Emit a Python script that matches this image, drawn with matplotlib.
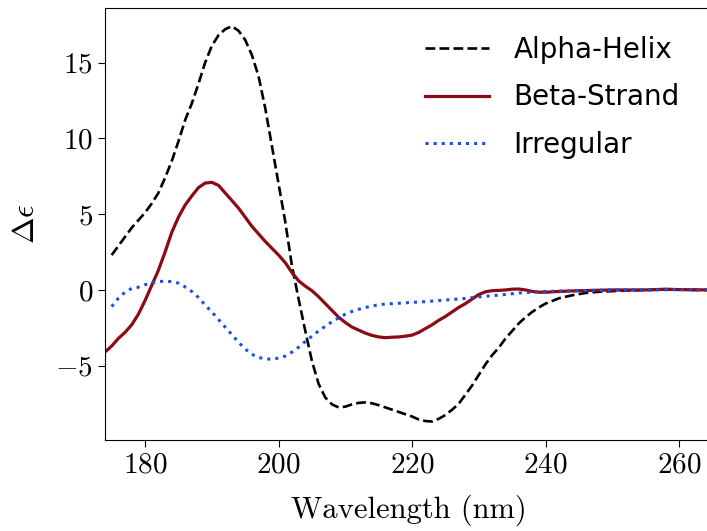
import matplotlib
matplotlib.use('Agg')
import matplotlib.pyplot as plt

plt.rcParams['font.family'] = 'serif'
plt.rcParams['font.serif'] = ['cmr10']
plt.rcParams['mathtext.fontset'] = 'cm'
plt.rcParams['axes.formatter.use_mathtext'] = True

# CD reference spectra (wavelength in nm, delta epsilon)
alpha_x = [175, 177, 178, 180, 181, 182, 183, 184, 185, 186, 187, 188, 189, 190, 191, 192, 193,
           194, 195, 196, 197, 198, 199, 200, 201, 202, 203, 204, 205, 206, 207, 208, 209, 210,
           211, 212, 213, 214, 215, 216, 217, 218, 219, 220, 221, 222, 223, 224, 225, 226, 227,
           228, 229, 230, 231, 232, 233, 234, 235, 236, 237, 238, 239, 240, 242, 244, 246, 248,
           250, 252, 255, 258, 260, 262, 265]
alpha_y = [2.3, 3.5, 4.1, 5.1, 5.7, 6.4, 7.4, 8.5, 9.8, 11.2, 12.3, 13.6, 15.0, 16.1, 16.8, 17.2, 17.4,
           17.1, 16.5, 15.5, 14.1, 12.0, 9.5, 7.0, 4.5, 1.6, -0.6, -2.7, -4.7, -6.2, -7.1, -7.55, -7.75, -7.7,
           -7.55, -7.45, -7.42, -7.48, -7.6, -7.75, -7.9, -8.05, -8.2, -8.35, -8.55, -8.65, -8.68, -8.5, -8.25, -7.9, -7.5,
           -6.9, -6.3, -5.6, -4.9, -4.3, -3.8, -3.2, -2.7, -2.2, -1.8, -1.45, -1.15, -0.9, -0.55, -0.35, -0.2, -0.12,
           -0.08, -0.04, 0.0, 0.02, 0.03, 0.0, 0.0]

beta_x = [174, 175, 176, 177, 178, 179, 180, 181, 182, 183, 184, 185, 186, 187, 188, 189, 190,
          191, 192, 193, 194, 195, 196, 197, 198, 199, 200, 201, 202, 203, 204, 205, 206, 207,
          208, 209, 210, 211, 212, 213, 214, 215, 216, 217, 218, 219, 220, 221, 222, 223, 224,
          225, 226, 227, 228, 229, 230, 231, 232, 233, 234, 235, 236, 237, 238, 239, 240, 242,
          245, 250, 255, 258, 260, 265]
beta_y = [-4.1, -3.7, -3.2, -2.8, -2.3, -1.6, -0.7, 0.3, 1.3, 2.5, 3.8, 4.8, 5.6, 6.2, 6.75, 7.05, 7.1,
          6.9, 6.4, 5.9, 5.4, 4.8, 4.2, 3.7, 3.2, 2.75, 2.3, 1.8, 1.15, 0.6, 0.25, -0.05, -0.45, -0.9,
          -1.35, -1.8, -2.15, -2.45, -2.65, -2.85, -3.0, -3.1, -3.15, -3.12, -3.1, -3.05, -2.98, -2.8, -2.55, -2.3, -2.0,
          -1.75, -1.45, -1.15, -0.9, -0.6, -0.3, -0.12, -0.05, -0.03, 0.0, 0.05, 0.06, 0.0, -0.1, -0.15, -0.15, -0.1,
          -0.05, 0.0, 0.0, 0.05, 0.02, 0.0]

irr_x = [175, 176, 177, 178, 179, 180, 181, 182, 183, 184, 185, 186, 187, 188, 189, 190, 191,
         192, 193, 194, 195, 196, 197, 198, 199, 200, 201, 202, 203, 204, 205, 206, 207, 208,
         209, 210, 211, 212, 213, 214, 215, 216, 218, 220, 222, 224, 226, 228, 230, 232, 234,
         236, 238, 240, 245, 250, 255, 260, 265]
irr_y = [-1.1, -0.55, -0.15, 0.1, 0.18, 0.35, 0.45, 0.55, 0.58, 0.55, 0.45, 0.2, -0.1, -0.5, -1.0, -1.45, -1.95,
         -2.45, -2.95, -3.45, -3.9, -4.25, -4.45, -4.55, -4.57, -4.5, -4.36, -4.1, -3.78, -3.4, -3.05, -2.7, -2.4, -2.1,
         -1.85, -1.6, -1.42, -1.28, -1.16, -1.06, -0.98, -0.93, -0.88, -0.82, -0.77, -0.7, -0.63, -0.56, -0.46, -0.38, -0.3,
         -0.2, -0.15, -0.1, -0.05, 0.0, 0.0, 0.02, 0.0]

fig = plt.figure(figsize=(7.07, 5.31), dpi=100)
ax = fig.add_axes([105/707, 91/531, 607.5/707, 432/531])

ax.plot(alpha_x, alpha_y, color='black', linestyle='--', linewidth=1.9, label='Alpha-Helix')
ax.plot(beta_x, beta_y, color='#8c0a16', linestyle='-', linewidth=2.3, label='Beta-Strand')
ax.plot(irr_x, irr_y, color='#1a4fe6', linestyle=':', linewidth=2.2, label='Irregular')

ax.set_xlim(174, 265)
ax.set_ylim(-9.9, 18.6)
ax.set_xticks([180, 200, 220, 240, 260])
ax.set_yticks([-5, 0, 5, 10, 15])
ax.tick_params(labelsize=21, length=5)

ax.set_xlabel('Wavelength (nm)', fontsize=22, labelpad=12)
ax.set_ylabel(r'$\Delta\epsilon$', fontsize=23, labelpad=11)

ax.legend(loc='upper left', bbox_to_anchor=(0.485, 0.993), frameon=False,
          prop={'family': 'DejaVu Sans', 'size': 20}, handlelength=2.3,
          labelspacing=0.7, handletextpad=0.9)

fig.savefig('out.png', dpi=100)
